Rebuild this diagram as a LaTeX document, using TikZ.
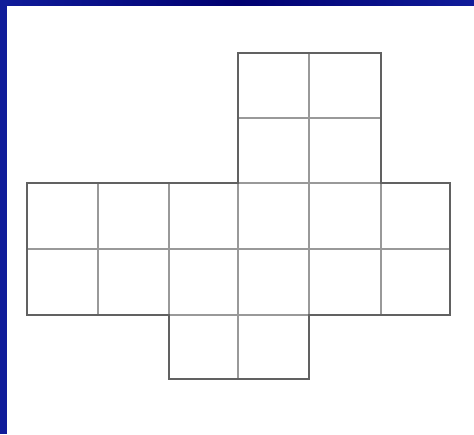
\documentclass[tikz,border=0pt]{standalone}
\begin{document}
\begin{tikzpicture}[x=1pt,y=-1pt,
  outline/.style={draw=black!62,line width=2pt,line join=miter},
  inner/.style={draw=black!40,line width=1.3pt}]
\definecolor{frameblue}{RGB}{16,28,154}
\definecolor{framenavy}{RGB}{0,0,112}
\useasboundingbox (0,0) rectangle (474,434);
\fill[white] (0,0) rectangle (474,434);
% frame
\shade[left color=frameblue,right color=frameblue,middle color=framenavy] (0,0) rectangle (474,5);
\fill[frameblue] (0,0) rectangle (7,434);
% inner grid lines
\draw[inner] (27,249) -- (450,249);
\draw[inner] (238,118) -- (381,118);
\draw[inner] (27,183) -- (450,183);
\draw[inner] (169,315) -- (309,315);
\draw[inner] (98,183) -- (98,315);
\draw[inner] (169,183) -- (169,315);
\draw[inner] (238,53) -- (238,379);
\draw[inner] (309,53) -- (309,315);
\draw[inner] (381,183) -- (381,315);
% outline
\draw[outline] (238,53) -- (381,53) -- (381,183) -- (450,183) -- (450,315)
  -- (309,315) -- (309,379) -- (169,379) -- (169,315) -- (27,315)
  -- (27,183) -- (238,183) -- cycle;
\end{tikzpicture}
\end{document}
